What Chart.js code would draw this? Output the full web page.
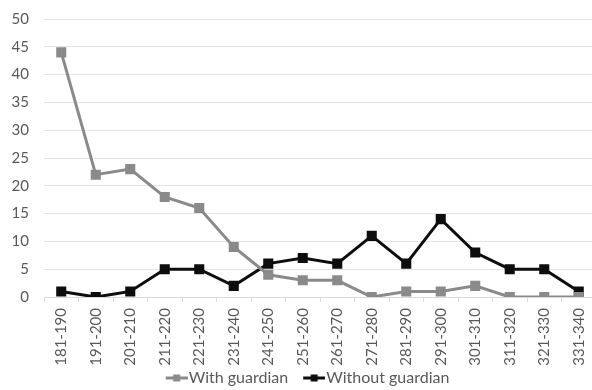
<!DOCTYPE html>
<html>
<head>
<meta charset="utf-8">
<script src="https://cdn.jsdelivr.net/npm/chart.js@4/dist/chart.umd.min.js"></script>
<style>
  html, body { margin: 0; padding: 0; background: #fff; overflow: hidden; }
  #wrap { width: 604px; height: 401px; margin-top: -5px; position: relative; }
</style>
</head>
<body>
<div id="wrap"><canvas id="chart"></canvas></div>
<script>
// data
var categories = ['181-190', '191-200', '201-210', '211-220', '221-230', '231-240', '241-250', '251-260',
                  '261-270', '271-280', '281-290', '291-300', '301-310', '311-320', '321-330', '331-340'];
var withGuardian = [44, 22, 23, 18, 16, 9, 4, 3, 3, 0, 1, 1, 2, 0, 0, 0];
var withoutGuardian = [1, 0, 1, 5, 5, 2, 6, 7, 6, 11, 6, 14, 8, 5, 5, 1];
var yTicks = [0, 5, 10, 15, 20, 25, 30, 35, 40, 45, 50];

var grey = '#8a8a8a';
var black = '#0d0d0d';
var textColor = '#595959';
var font = 'Lato, "Open Sans", sans-serif';

// legend icon: short line with a square marker, pushed right so it sits next to the text
function legendIcon(color) {
    var c = document.createElement('canvas');
    c.width = 40;
    c.height = 10;
    var g = c.getContext('2d');
    g.strokeStyle = color;
    g.lineWidth = 3;
    g.beginPath();
    g.moveTo(18, 5);
    g.lineTo(40, 5);
    g.stroke();
    g.fillStyle = color;
    g.fillRect(25.5, 1.5, 7, 7);
    return c;
}

var ctx = document.getElementById('chart');

new Chart(ctx, {
    type: 'line',
    data: {
        labels: categories,
        datasets: [{
            label: 'With guardian',
            data: withGuardian,
            borderColor: grey,
            backgroundColor: grey,
            borderWidth: 3,
            pointStyle: 'rect',
            pointRadius: 5,
            pointHoverRadius: 5,
            tension: 0
        }, {
            label: 'Without guardian',
            data: withoutGuardian,
            borderColor: black,
            backgroundColor: black,
            borderWidth: 3,
            pointStyle: 'rect',
            pointRadius: 5,
            pointHoverRadius: 5,
            tension: 0
        }]
    },
    options: {
        responsive: true,
        maintainAspectRatio: false,
        animation: false,
        plugins: {
            legend: {
                position: 'bottom',
                labels: {
                    color: textColor,
                    font: { family: font, size: 16 },
                    usePointStyle: true,
                    pointStyleWidth: 26,
                    boxHeight: 10,
                    padding: 4,
                    generateLabels: function (chart) {
                        return chart.data.datasets.map(function (ds, i) {
                            return {
                                text: ds.label,
                                pointStyle: legendIcon(ds.borderColor),
                                fontColor: textColor,
                                strokeStyle: ds.borderColor,
                                fillStyle: ds.borderColor,
                                lineWidth: 0,
                                datasetIndex: i
                            };
                        });
                    }
                }
            },
            tooltip: { enabled: false }
        },
        scales: {
            x: {
                offset: true,
                afterFit: function (axis) {
                    axis.height = 69;
                },
                grid: {
                    display: true,
                    drawOnChartArea: false,
                    drawTicks: true,
                    tickLength: 5,
                    color: '#d9d9d9',
                    offset: true
                },
                border: { display: true, color: '#d9d9d9', width: 1 },
                ticks: {
                    color: textColor,
                    font: { family: font, size: 15 },
                    maxRotation: 90,
                    minRotation: 90,
                    autoSkip: false,
                    padding: 6
                }
            },
            y: {
                min: 0,
                max: 50,
                afterBuildTicks: function (axis) {
                    axis.ticks = yTicks.map(function (v) { return { value: v }; });
                },
                afterFit: function (axis) {
                    axis.width = 44;
                },
                grid: {
                    color: '#e3e3e3',
                    drawTicks: false
                },
                border: { display: false },
                ticks: {
                    color: textColor,
                    font: { family: font, size: 15 },
                    padding: 15
                }
            }
        }
    }
});
</script>
</body>
</html>
